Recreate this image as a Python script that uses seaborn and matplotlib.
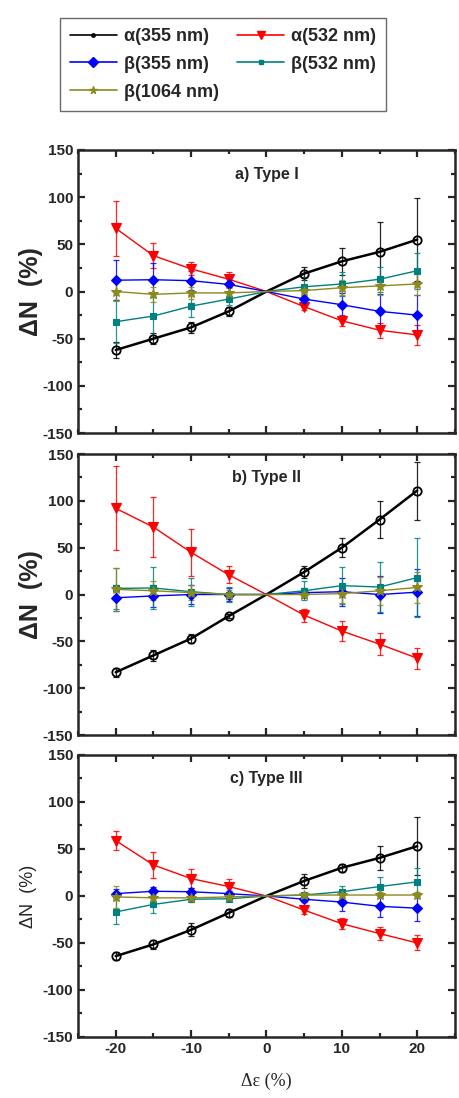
import numpy as np
import pandas as pd
import matplotlib
matplotlib.use("Agg")
import matplotlib.pyplot as plt
from matplotlib.ticker import MultipleLocator
from matplotlib.lines import Line2D
import seaborn as sns

# ---------------- data ----------------
strain = [-20, -15, -10, -5, 0, 5, 10, 15, 20]
series_names = ["α(355 nm)", "α(532 nm)", "β(355 nm)", "β(532 nm)", "β(1064 nm)"]
panel_titles = ["a) Type I", "b) Type II", "c) Type III"]

# Panel a) Type I
a_alpha355 = [-62, -50, -38, -21, 0, 19, 32, 42, 55]
a_alpha532 = [67, 38, 24, 13, 0, -16, -31, -41, -46]
a_beta355 = [12, 12.5, 11.5, 7.5, 0, -8, -14, -21, -25]
a_beta532 = [-32, -26, -15.5, -8, 0, 5, 8, 13, 22]
a_beta1064 = [0, -3, -1.5, -1.5, 0, 1, 4, 6, 8]
a_err_alpha355 = [8, 6, 6, 5, 0, 7, 14, 32, 44]
a_err_alpha532 = [29, 13, 7, 8, 0, 4, 6, 8, 11]
a_err_beta355 = [21, 18, 10, 8, 0, 8, 12, 18, 21]
a_err_beta532 = [23, 20, 12, 6, 0, 10, 13, 13, 19]
a_err_beta1064 = [10, 8, 6, 5, 0, 5, 8, 10, 12]

# Panel b) Type II
b_alpha355 = [-83, -65, -47, -23, 0, 24, 50, 80, 111]
b_alpha532 = [92, 72, 45, 21, 0, -22, -39, -53, -68]
b_beta355 = [-3.5, -1.5, 0, 0, 0, 2, 3, 0, 2.5]
b_beta532 = [6.5, 7, 3, 0, 0, 4, 9.5, 8, 18]
b_beta1064 = [5.5, 4, 2, 0, 0, 0, 1, 4, 7.5]
b_err_alpha355 = [5, 6, 5, 2, 0, 6, 10, 20, 31]
b_err_alpha532 = [45, 32, 25, 9, 0, 7, 11, 12, 11]
b_err_beta355 = [14, 12, 10, 7, 0, 5, 15, 20, 25]
b_err_beta532 = [22, 22, 15, 8, 0, 10, 20, 27, 42]
b_err_beta1064 = [23, 10, 8, 5, 0, 3, 10, 15, 17]

# Panel c) Type III
c_alpha355 = [-64, -51.5, -36, -18, 0, 16, 30, 40.5, 53]
c_alpha532 = [59, 33, 18.5, 10, 0, -15, -29.5, -40, -50]
c_beta355 = [2.5, 5, 4.5, 2.5, 0, -3.5, -6.5, -11, -13]
c_beta532 = [-17, -9, -3.5, -3, 0, 1, 4.5, 10, 15]
c_beta1064 = [-1, -2, -2, -1, 0, 1, 1, 1, 1]
c_err_alpha355 = [4, 5, 7, 4, 0, 7, 4, 13, 31]
c_err_alpha532 = [10, 14, 10, 8, 0, 4, 6, 7, 8]
c_err_beta355 = [5, 5, 4, 3, 0, 3, 10, 11, 14]
c_err_beta532 = [13, 9, 3, 2, 0, 2, 6, 10, 15]
c_err_beta1064 = [12, 3, 3, 2, 0, 2, 3, 3, 3]

panels = [
    ([a_alpha355, a_alpha532, a_beta355, a_beta532, a_beta1064],
     [a_err_alpha355, a_err_alpha532, a_err_beta355, a_err_beta532, a_err_beta1064]),
    ([b_alpha355, b_alpha532, b_beta355, b_beta532, b_beta1064],
     [b_err_alpha355, b_err_alpha532, b_err_beta355, b_err_beta532, b_err_beta1064]),
    ([c_alpha355, c_alpha532, c_beta355, c_beta532, c_beta1064],
     [c_err_alpha355, c_err_alpha532, c_err_beta355, c_err_beta532, c_err_beta1064]),
]

# ---------------- styles ----------------
colors = ["#000000", "#ff0000", "#0000ff", "#008080", "#8a8a1e"]
markers = ["o", "v", "D", "s", "*"]
msizes = [6, 7, 5.5, 5, 7]
lws = [1.8, 1.0, 1.0, 1.0, 1.0]
facecols = ["none", "#ff0000", "#0000ff", "#008080", "#8a8a1e"]

sns.set_style("ticks")
plt.rcParams["font.family"] = ["Liberation Sans", "DejaVu Sans"]
plt.rcParams["axes.unicode_minus"] = False

fig = plt.figure(figsize=(4.59, 10.98), dpi=100)
rects = [
    [0.170, 0.6056, 0.821, 0.2578],
    [0.170, 0.3306, 0.821, 0.2559],
    [0.170, 0.0556, 0.821, 0.2568],
]

marker_idx = [i for i, v in enumerate(strain) if v != 0]
for p, (rect, (vals, errs)) in enumerate(zip(rects, panels)):
    ax = fig.add_axes(rect)
    order = [3, 4, 2, 1, 0]
    for k in order:
        df = pd.DataFrame({"x": strain, "y": vals[k]})
        sns.lineplot(data=df, x="x", y="y", ax=ax, color=colors[k], lw=lws[k],
                     marker=markers[k], markersize=msizes[k],
                     markerfacecolor=facecols[k], markeredgecolor=colors[k],
                     markeredgewidth=1.3 if k == 0 else 0.8,
                     markevery=marker_idx, zorder=3 + k * 0.1, legend=False)
        xs = [strain[i] for i in marker_idx]
        ys = [vals[k][i] for i in marker_idx]
        es = [errs[k][i] for i in marker_idx]
        ax.errorbar(xs, ys, yerr=es, fmt="none", ecolor=colors[k],
                    elinewidth=0.9, capsize=2.5, capthick=0.9, zorder=2 + k * 0.1,
                    alpha=0.85)
    ax.set_xlim(-25, 25)
    ax.set_ylim(-150, 150)
    ax.xaxis.set_major_locator(MultipleLocator(10))
    ax.xaxis.set_minor_locator(MultipleLocator(5))
    ax.yaxis.set_major_locator(MultipleLocator(50))
    ax.yaxis.set_minor_locator(MultipleLocator(25))
    ax.tick_params(which="both", direction="in", top=True, right=True, width=1.6)
    ax.tick_params(which="major", length=5, labelsize=11)
    ax.tick_params(which="minor", length=3)
    for sp in ax.spines.values():
        sp.set_linewidth(1.8)
    for lab in ax.get_yticklabels():
        lab.set_fontweight("bold")
    ax.set_xlabel("")
    ax.text(0.5, 0.915, panel_titles[p], transform=ax.transAxes, ha="center",
            va="center", fontsize=11.5, fontweight="bold")
    if p < 2:
        ax.set_xticklabels([])
        ax.set_ylabel("ΔN  (%)", fontsize=18, fontweight="bold", labelpad=0)
    else:
        for lab in ax.get_xticklabels():
            lab.set_fontweight("bold")
        ax.set_ylabel("ΔN  (%)", fontsize=13, labelpad=4)
        ax.set_xlabel("Δε (%)", fontsize=13, family=["Liberation Serif", "DejaVu Serif"],
                      labelpad=12)

# legend handles (row-wise order as in the reference)
leg_ms = [2.5, 5.5, 5, 3.5, 5.5]
handles = [Line2D([0], [0], color=colors[k], lw=1.2, marker=markers[k],
                  markersize=leg_ms[k], markerfacecolor=colors[k],
                  markeredgecolor=colors[k]) for k in range(5)]
leg_order = [0, 2, 4, 1, 3]
leg = fig.legend([handles[i] for i in leg_order], [series_names[i] for i in leg_order],
                 loc="upper left", bbox_to_anchor=(60 / 459, 1 - 18 / 1098), ncol=2,
                 frameon=True, fancybox=False, edgecolor="#444444",
                 prop={"weight": "bold", "size": 13}, handlelength=2.6,
                 handletextpad=0.4, columnspacing=1.0, borderpad=0.55,
                 labelspacing=0.6, borderaxespad=0)
leg.get_frame().set_linewidth(1.0)

fig.savefig("out.png", dpi=100)
